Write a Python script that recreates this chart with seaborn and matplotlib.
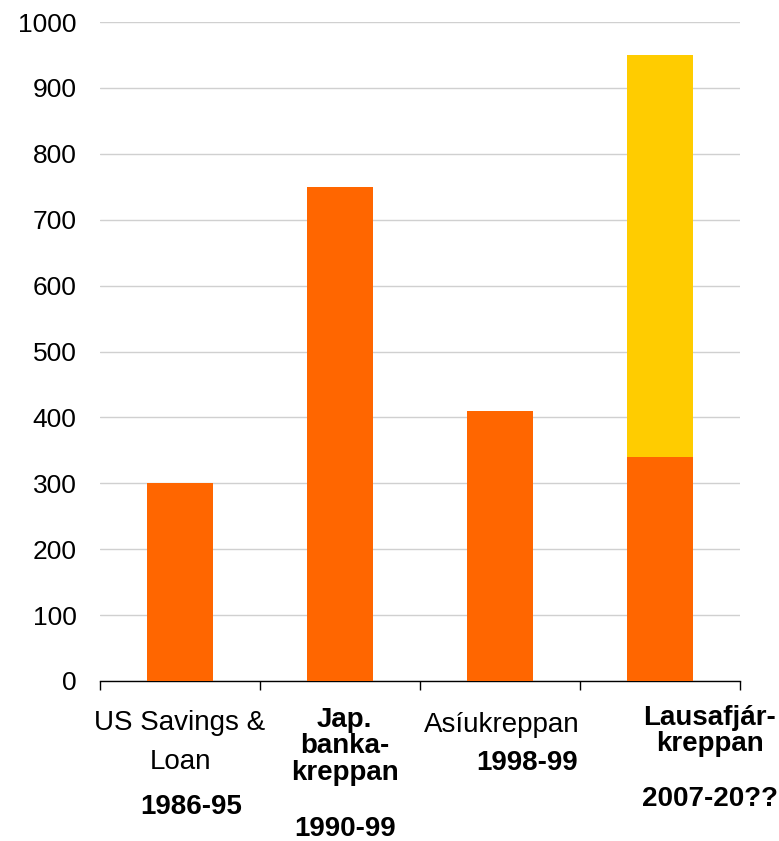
import matplotlib
matplotlib.use("Agg")
import matplotlib.pyplot as plt
import matplotlib.transforms as mtransforms
import seaborn as sns
import pandas as pd

# ---- data ----
categories = ["US Savings & Loan", "Jap. bankakreppan", "Asíukreppan", "Lausafjárkreppan"]
orange_values = [300, 750, 410, 340]
yellow_values = [0, 0, 0, 610]
name_lines = [["US Savings &", "Loan"], ["Jap.", "banka-", "kreppan"], ["Asíukreppan"], ["Lausafjár-", "kreppan"]]
name_bold = [False, True, False, True]
year_labels = ["1986-95", "1990-99", "1998-99", "2007-20??"]
y_ticks = [0, 100, 200, 300, 400, 500, 600, 700, 800, 900, 1000]

sns.set_theme(style="white")
plt.rcParams["font.family"] = ["Liberation Sans", "DejaVu Sans"]

totals = [o + y for o, y in zip(orange_values, yellow_values)]
df = pd.DataFrame({"cat": categories, "orange": orange_values, "total": totals})

fig = plt.figure(figsize=(7.79, 8.41), dpi=100)
ax = fig.add_axes([100 / 779, 1 - 681 / 841, (740 - 100) / 779, (681 - 22) / 841])

sns.barplot(data=df, x="cat", y="total", color="#FFCC00", width=0.41, ax=ax,
            saturation=1, zorder=3, linewidth=0, edgecolor="none")
sns.barplot(data=df, x="cat", y="orange", color="#FF6600", width=0.41, ax=ax,
            saturation=1, zorder=3, linewidth=0, edgecolor="none")

ax.set_xlim(-0.5, 3.5)
ax.set_ylim(0, 1000)
ax.set_yticks(y_ticks)
ax.set_yticklabels([str(v) for v in y_ticks], fontsize=19, color="black")
ax.tick_params(axis="y", length=0, pad=17)
ax.yaxis.grid(True, color="#d0d0d0", linewidth=1.0, zorder=0)
ax.set_axisbelow(True)

ax.set_xticks([-0.5, 0.5, 1.5, 2.5, 3.5])
ax.set_xticklabels([])
ax.tick_params(axis="x", direction="out", length=6.5, width=1, color="black", bottom=True)
ax.set_xlabel("")
ax.set_ylabel("")
for s in ["left", "right", "top"]:
    ax.spines[s].set_visible(False)
ax.spines["bottom"].set_color("black")
ax.spines["bottom"].set_linewidth(1.0)

trans = mtransforms.blended_transform_factory(ax.transData, fig.transFigure)

def fy(p):
    return 1 - p / 841

# layout of category labels (pixel baselines and x offsets)
name_baselines = [[730, 769], [727, 753, 780], [732], [725, 751]]
name_dx = [0.0, 0.03, 0.01, 0.31]
year_baseline = [814, 836, 770, 806]
year_dx = [0.07, 0.03, 0.17, 0.31]

for i in range(len(categories)):
    w = "bold" if name_bold[i] else "normal"
    for line, b in zip(name_lines[i], name_baselines[i]):
        ax.text(i + name_dx[i], fy(b), line, transform=trans, ha="center", va="baseline",
                fontsize=20, fontweight=w, color="black", clip_on=False)
    ax.text(i + year_dx[i], fy(year_baseline[i]), year_labels[i], transform=trans, ha="center",
            va="baseline", fontsize=20, fontweight="bold", color="black", clip_on=False)

fig.savefig("out.png", dpi=100)
